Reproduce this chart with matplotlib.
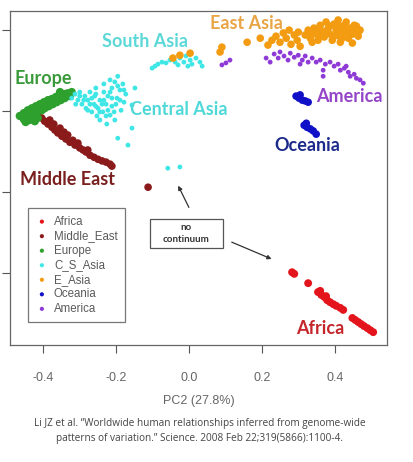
import matplotlib.pyplot as plt
from matplotlib.patches import Rectangle

# PCA coordinates (x = PC2, y = PC1)
africa_x = [0.282, 0.288, 0.326, 0.353, 0.362, 0.370, 0.378, 0.386, 0.395, 0.403, 0.414, 0.422,
            0.447, 0.455, 0.463, 0.471, 0.479, 0.488, 0.496, 0.504, 0.359, 0.375]
africa_y = [-0.398, -0.402, -0.425, -0.447, -0.454, -0.459, -0.467, -0.472, -0.477, -0.481, -0.486, -0.491,
            -0.511, -0.516, -0.521, -0.526, -0.531, -0.536, -0.541, -0.546, -0.444, -0.457]

mideast_x = [-0.414, -0.403, -0.395, -0.386, -0.381, -0.375, -0.367, -0.370, -0.359, -0.353, -0.348, -0.342,
             -0.337, -0.332, -0.326, -0.318, -0.312, -0.304, -0.299, -0.290, -0.282, -0.277, -0.271, -0.260,
             -0.249, -0.238, -0.227, -0.216, -0.211, -0.112]
mideast_y = [-0.007, -0.017, -0.025, -0.032, -0.022, -0.040, -0.047, -0.032, -0.054, -0.042, -0.062, -0.052,
             -0.069, -0.059, -0.077, -0.072, -0.084, -0.079, -0.091, -0.096, -0.101, -0.096, -0.109, -0.114,
             -0.119, -0.123, -0.126, -0.131, -0.136, -0.188]

europe_x = [-0.463, -0.452, -0.452, -0.441, -0.441, -0.436, -0.430, -0.427, -0.419, -0.416, -0.414, -0.408,
            -0.403, -0.397, -0.395, -0.386, -0.384, -0.375, -0.373, -0.364, -0.362, -0.353, -0.351, -0.342,
            -0.340, -0.332, -0.326, -0.321, -0.447, -0.422, -0.353]
europe_y = [-0.012, -0.005, -0.020, 0.002, -0.012, -0.022, 0.007, -0.007, 0.012, -0.002, -0.017, 0.017,
            0.002, 0.022, 0.007, 0.027, 0.012, 0.030, 0.017, 0.035, 0.022, 0.037, 0.027, 0.042,
            0.032, 0.044, 0.037, 0.047, -0.027, -0.025, 0.047]

csasia_x = [-0.321, -0.312, -0.304, -0.299, -0.293, -0.285, -0.282, -0.277, -0.271, -0.266, -0.260, -0.258,
            -0.252, -0.249, -0.244, -0.244, -0.236, -0.233, -0.227, -0.225, -0.222, -0.216, -0.211, -0.211,
            -0.203, -0.203, -0.197, -0.195, -0.189, -0.186, -0.181, -0.178, -0.173, -0.233, -0.216, -0.255,
            -0.310, -0.288, -0.277, -0.266, -0.255, -0.244, -0.233, -0.222, -0.211, -0.200, -0.189, -0.299,
            -0.271, -0.227, -0.205, -0.195, -0.216, -0.238, -0.255, -0.178,
            -0.148, -0.156, -0.156, -0.195, -0.167, -0.058, -0.025,
            -0.101, -0.085, -0.074, -0.063, -0.052, -0.038, -0.025, -0.014, -0.008, 0.003, 0.008, 0.019,
            0.030, 0.036, -0.003, -0.030, -0.093]
csasia_y = [0.032, 0.042, 0.027, 0.047, 0.017, 0.037, 0.007, 0.027, 0.047, -0.002, 0.017, 0.037,
            -0.012, 0.007, 0.027, -0.022, -0.002, 0.047, 0.017, -0.032, 0.037, -0.010, 0.057, 0.012,
            0.072, -0.022, 0.032, 0.086, 0.052, 0.002, 0.067, 0.022, 0.042, 0.067, 0.077, 0.057,
            0.017, 0.027, 0.002, 0.032, 0.012, -0.002, 0.027, 0.002, 0.032, 0.017, 0.027, 0.037,
            0.017, -0.012, -0.002, 0.062, 0.047, 0.017, 0.042, 0.052,
            0.057, 0.015, -0.042, -0.067, -0.084, -0.141, -0.138,
            0.106, 0.116, 0.121, 0.119, 0.126, 0.121, 0.131, 0.121, 0.136, 0.126, 0.116, 0.131,
            0.121, 0.111, 0.111, 0.114, 0.111]

easia_x = [0.318, 0.326, 0.332, 0.342, 0.348, 0.353, 0.359, 0.364, 0.370, 0.375, 0.381, 0.386,
           0.392, 0.397, 0.403, 0.408, 0.411, 0.419, 0.425, 0.430, 0.436, 0.441, 0.447, 0.452,
           0.458, 0.463, 0.337, 0.414, 0.447, 0.468,
           0.337, 0.353, 0.375, 0.386, 0.397, 0.414, 0.425, 0.436, 0.447, 0.458, 0.419, 0.359,
           0.403, 0.332, 0.463,
           0.227, 0.238, 0.249, 0.258, 0.266, 0.274, 0.279, 0.288, 0.296, 0.304, 0.299,
           0.159, 0.195, 0.090, 0.085, 0.216, -0.025, 0.003, -0.044]
easia_y = [0.188, 0.200, 0.180, 0.205, 0.190, 0.175, 0.212, 0.198, 0.183, 0.220, 0.205, 0.190,
           0.175, 0.215, 0.200, 0.225, 0.185, 0.210, 0.195, 0.220, 0.180, 0.205, 0.190, 0.212,
           0.198, 0.185, 0.170, 0.170, 0.168, 0.200,
           0.193, 0.200, 0.195, 0.210, 0.185, 0.200, 0.210, 0.195, 0.205, 0.210, 0.180, 0.185,
           0.215, 0.190, 0.195,
           0.175, 0.185, 0.170, 0.193, 0.180, 0.200, 0.165, 0.188, 0.175, 0.160, 0.195,
           0.170, 0.180, 0.158, 0.146, 0.163, 0.138, 0.143, 0.131]

oceania_x = [0.293, 0.301, 0.310, 0.318, 0.326, 0.304, 0.315, 0.323, 0.332, 0.340, 0.348, 0.321]
oceania_y = [0.037, 0.032, 0.027, 0.025, 0.022, 0.040, -0.035, -0.040, -0.044, -0.049, -0.057, -0.030]

america_x = [0.090, 0.112, 0.101, 0.211, 0.222, 0.233, 0.244, 0.249, 0.260, 0.271, 0.277, 0.288,
             0.299, 0.310, 0.318, 0.326, 0.337, 0.348, 0.359, 0.367, 0.367, 0.373, 0.386, 0.397,
             0.408, 0.414, 0.425, 0.436, 0.441, 0.452, 0.458, 0.468, 0.477, 0.430, 0.304]
america_y = [0.114, 0.126, 0.119, 0.131, 0.121, 0.141, 0.131, 0.146, 0.136, 0.126, 0.143, 0.133,
             0.138, 0.126, 0.136, 0.121, 0.131, 0.121, 0.126, 0.101, 0.086, 0.116, 0.121, 0.111,
             0.116, 0.101, 0.106, 0.096, 0.086, 0.091, 0.081, 0.077, 0.069, 0.111, 0.116]

groups = ["Africa", "Middle_East", "Europe", "C_S_Asia", "E_Asia", "Oceania", "America"]
colors = ["#e3141c", "#8b1a1a", "#2ea02e", "#3fe6e6", "#f39c12", "#1010c8", "#8e3ad6"]
xs = [africa_x, mideast_x, europe_x, csasia_x, easia_x, oceania_x, america_x]
ys = [africa_y, mideast_y, europe_y, csasia_y, easia_y, oceania_y, america_y]
sizes = [32, 30, 36, 12, 30, 30, 12]

region_labels = ["South Asia", "East Asia", "Europe", "Central Asia", "America", "Oceania", "Middle East", "Africa"]
label_x = [-0.121, 0.156, -0.400, -0.027, 0.438, 0.323, -0.332, 0.359]
label_y = [0.173, 0.217, 0.081, 0.005, 0.037, -0.084, -0.170, -0.536]
label_colors = ["#5cd8d8", "#e9a545", "#3a9a3a", "#4fd8d8", "#9444c8", "#1c2a8c", "#7a1e1e", "#c4262c"]

fig = plt.figure(figsize=(4.14, 4.62), dpi=100)
ax = fig.add_axes([0.024, 0.253, 0.911, 0.723])

for g, c, x, y, s in zip(groups, colors, xs, ys, sizes):
    ax.scatter(x, y, s=s, c=c, edgecolors="none", label=g)

for t, x, y, c in zip(region_labels, label_x, label_y, label_colors):
    ax.text(x, y, t, color=c, fontsize=13, fontweight="bold", family="Lato", ha="center", va="center")

# "no continuum" callout
ax.add_patch(Rectangle((-0.107, -0.338), 0.200, 0.071, fc="white", ec="#555555", lw=0.9, zorder=3))
ax.text(-0.007, -0.302, "no\ncontinuum", fontsize=7, fontweight="bold", family="Lato", color="#333333",
        ha="center", va="center", linespacing=1.5, zorder=4)
ax.annotate("", xy=(-0.033, -0.178), xytext=(0.003, -0.244),
            arrowprops=dict(arrowstyle="-|>", color="#333333", lw=0.9, mutation_scale=6))
ax.annotate("", xy=(0.233, -0.368), xytext=(0.110, -0.321),
            arrowprops=dict(arrowstyle="-|>", color="#333333", lw=0.9, mutation_scale=6))

leg = ax.legend(loc="upper left", bbox_to_anchor=(0.048, 0.41), borderaxespad=0, fancybox=False,
                edgecolor="#555555", handletextpad=0.5, labelspacing=0.22,
                labelcolor="#5a5a5a", borderpad=0.65, handlelength=1.1,
                prop={"family": "Liberation Sans", "size": 8.3})
leg.get_frame().set_linewidth(0.9)
for h in leg.legend_handles:
    h.set_sizes([9])

ax.set_xlim(-0.49, 0.542)
ax.set_ylim(-0.578, 0.247)
ax.set_xticks([-0.4, -0.2, 0.0, 0.2, 0.4])
ax.set_xticklabels(["-0.4", "-0.2", "0.0", "0.2", "0.4"], family="Liberation Sans", fontsize=9, color="#666666")
ax.set_yticks([0.2, 0.0, -0.2, -0.4])
ax.set_yticklabels([])
ax.tick_params(axis="x", length=6, color="#555555", pad=13)
ax.tick_params(axis="y", length=6, color="#555555")
for sp in ax.spines.values():
    sp.set_color("#666666")
    sp.set_linewidth(0.9)
ax.set_xlabel("PC2 (27.8%)", family="Liberation Sans", fontsize=9, color="#666666", labelpad=8)

fig.text(0.483, 0.067, "Li JZ et al. \u201cWorldwide human relationships inferred from genome-wide\n"
         "patterns of variation.\u201d Science. 2008 Feb 22;319(5866):1100-4.",
         ha="center", va="center", fontsize=7.2, family="Open Sans", color="#444444", linespacing=1.6)

fig.savefig("out.png", dpi=100)
